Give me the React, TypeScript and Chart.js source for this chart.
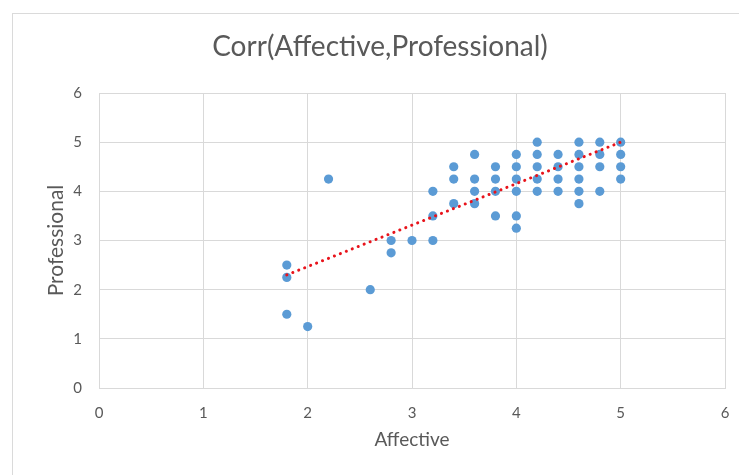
import React, { useEffect, useRef } from "react";
import { Chart, registerables } from "chart.js";

Chart.register(...registerables);

const affective = [
  1.8, 1.8, 1.8, 2.0, 2.2, 2.6, 2.8, 2.8, 3.0,
  3.2, 3.2, 3.2, 3.4, 3.4, 3.4, 3.6, 3.6, 3.6, 3.6,
  3.8, 3.8, 3.8, 3.8, 4.0, 4.0, 4.0, 4.0, 4.0, 4.0,
  4.2, 4.2, 4.2, 4.2, 4.2, 4.4, 4.4, 4.4, 4.4,
  4.6, 4.6, 4.6, 4.6, 4.6, 4.6, 4.8, 4.8, 4.8, 4.8,
  5.0, 5.0, 5.0, 5.0,
];
const professional = [
  2.5, 2.25, 1.5, 1.25, 4.25, 2.0, 3.0, 2.75, 3.0,
  4.0, 3.5, 3.0, 4.5, 4.25, 3.75, 4.75, 4.25, 4.0, 3.75,
  4.5, 4.25, 4.0, 3.5, 4.75, 4.5, 4.25, 4.0, 3.5, 3.25,
  5.0, 4.75, 4.5, 4.25, 4.0, 4.75, 4.5, 4.25, 4.0,
  5.0, 4.75, 4.5, 4.25, 4.0, 3.75, 5.0, 4.75, 4.5, 4.0,
  5.0, 4.75, 4.5, 4.25,
];
const trendX = [1.8, 5.0];
const trendY = [2.3, 5.0];
const xTicks = [0, 1, 2, 3, 4, 5, 6];
const yTicks = [0, 1, 2, 3, 4, 5, 6];
const chartTitle = "Corr(Affective,Professional)";

const FONT = "Lato, 'Liberation Sans', sans-serif";
const TEXT = "#595959";
const GRID = "#D9D9D9";

const framePlugin = {
  id: "frame",
  beforeDraw(chart: any) {
    const ctx = chart.ctx;
    ctx.save();
    ctx.fillStyle = "#ffffff";
    ctx.fillRect(0, 0, chart.width, chart.height);
    ctx.strokeStyle = "#DADADA";
    ctx.lineWidth = 1;
    ctx.strokeRect(12.5, 13.5, chart.width + 20, chart.height + 20);
    ctx.restore();
  },
  afterDraw(chart: any) {
    const ctx = chart.ctx;
    ctx.save();
    ctx.fillStyle = TEXT;
    ctx.font = `normal 28px ${FONT}`;
    ctx.textAlign = "center";
    ctx.textBaseline = "middle";
    ctx.fillText(chartTitle, 380, 47);
    ctx.restore();
  },
};

export default function App() {
  const ref = useRef<HTMLCanvasElement | null>(null);
  useEffect(() => {
    if (!ref.current) return;
    const chart = new Chart(ref.current, {
      type: "scatter",
      data: {
        datasets: [
          {
            type: "line",
            label: "Trend",
            data: trendX.map((x, i) => ({ x, y: trendY[i] })),
            borderColor: "#E8131B",
            borderWidth: 3,
            borderDash: [0.1, 6.3],
            borderCapStyle: "round",
            pointRadius: 0,
            fill: false,
            order: 0,
          } as any,
          {
            label: "Professional",
            data: affective.map((x, i) => ({ x, y: professional[i] })),
            backgroundColor: "#5B9BD5",
            borderColor: "#5B9BD5",
            borderWidth: 0,
            pointRadius: 4.6,
            order: 1,
          },
        ],
      },
      options: {
        responsive: false,
        animation: false,
        layout: { padding: { left: 0, right: 14, top: 93, bottom: 0 } },
        plugins: {
          legend: { display: false },
          tooltip: { enabled: false },
          title: { display: false },
        },
        scales: {
          x: {
            type: "linear",
            min: 0,
            max: 6,
            afterBuildTicks: (s: any) => {
              s.ticks = xTicks.map((v) => ({ value: v }));
            },
            afterFit: (s: any) => {
              s.height = 87;
              s.paddingRight = 0;
              s.paddingLeft = 0;
            },
            grid: { color: GRID, drawTicks: false, lineWidth: 1 },
            border: { color: GRID },
            ticks: {
              color: TEXT,
              padding: 16,
              font: { family: FONT, size: 15 },
            },
            title: {
              display: true,
              text: "Affective",
              color: TEXT,
              font: { family: FONT, size: 19 },
              padding: { top: 0, bottom: 24 },
            },
          },
          y: {
            type: "linear",
            min: 0,
            max: 6,
            afterBuildTicks: (s: any) => {
              s.ticks = yTicks.map((v) => ({ value: v }));
            },
            afterFit: (s: any) => {
              s.width = 99;
              s.paddingTop = 0;
              s.paddingBottom = 0;
            },
            grid: { color: GRID, drawTicks: false, lineWidth: 1 },
            border: { color: GRID },
            ticks: {
              color: TEXT,
              padding: 17,
              font: { family: FONT, size: 15 },
            },
            title: {
              display: true,
              text: "Professional",
              color: TEXT,
              font: { family: FONT, size: 21 },
              padding: { top: 44, bottom: 0 },
            },
          },
        },
      } as any,
      plugins: [framePlugin],
    });
    return () => chart.destroy();
  }, []);
  return (
    <div style={{ position: "absolute", left: 0, top: 0, width: 739, height: 475 }}>
      <canvas ref={ref} width={739} height={475} style={{ display: "block" }} />
    </div>
  );
}
